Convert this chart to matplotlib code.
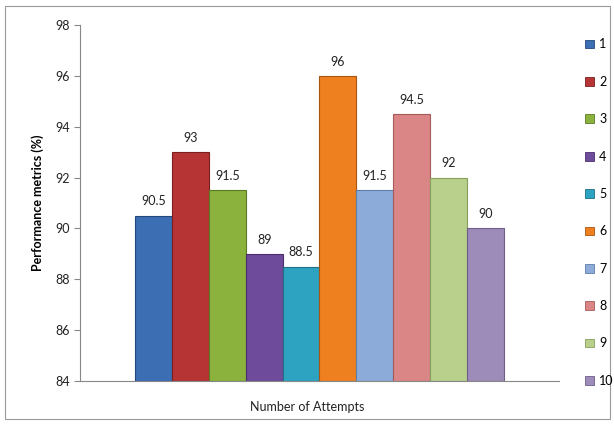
import matplotlib.pyplot as plt
from matplotlib.patches import Patch, Rectangle

plt.rcParams['font.family'] = ['Lato', 'DejaVu Sans']

attempts = ['1', '2', '3', '4', '5', '6', '7', '8', '9', '10']
scores = [90.5, 93, 91.5, 89, 88.5, 96, 91.5, 94.5, 92, 90]
colors = ['#3c6eb4', '#b73434', '#8ab23d', '#6f4b9b', '#2ea3c1',
          '#ef801f', '#8cabd8', '#da8686', '#b8d08b', '#9d8bb9']
edges = ['#24477a', '#7a1f1f', '#5a7a24', '#4a2f6b', '#1c6f85',
         '#a8560f', '#5f7ea8', '#a65a5a', '#84a05a', '#6e5e88']

fig = plt.figure(figsize=(6.14, 4.24), dpi=100)
ax = fig.add_axes([0.1303, 0.1014, 0.780, 0.8396])

x = list(range(len(scores)))
bars = ax.bar(x, [s - 84 for s in scores], bottom=84, width=1.0,
              color=colors, edgecolor=edges, linewidth=0.8)

for xi, s in zip(x, scores):
    ax.annotate(f'{s:g}', (xi, s), xytext=(0, 6), textcoords='offset points',
                ha='center', va='bottom', fontsize=9, color='#222222')

ax.set_ylim(84, 98)
ax.set_yticks(range(84, 99, 2))
ax.set_xlim(-2.0, 11.0)
ax.set_xticks([])
ax.tick_params(axis='y', labelsize=9, length=4, color='#888888', labelcolor='#222222')
for side in ['top', 'right']:
    ax.spines[side].set_visible(False)
ax.spines['left'].set_color('#888888')
ax.spines['bottom'].set_color('#888888')

ax.set_ylabel('Performance metrics (%)', fontsize=9, fontweight='bold', labelpad=8)
fig.text(0.5, 1 - 407 / 424, 'Number of Attempts', ha='center', va='center',
         fontsize=9, color='#222222')

handles = [Patch(facecolor=c, edgecolor=e, linewidth=0.6) for c, e in zip(colors, edges)]
fig.legend(handles, attempts, loc='upper left', bbox_to_anchor=(0.945, 0.921),
           frameon=False, fontsize=9, handlelength=0.7, handleheight=0.7,
           handletextpad=0.4, labelspacing=2.03, borderaxespad=0)

fig.patches.append(Rectangle((0.008, 0.012), 0.986, 0.975, transform=fig.transFigure,
                             fill=False, edgecolor='#9a9a9a', linewidth=0.8))

fig.savefig('out.png', dpi=100)
